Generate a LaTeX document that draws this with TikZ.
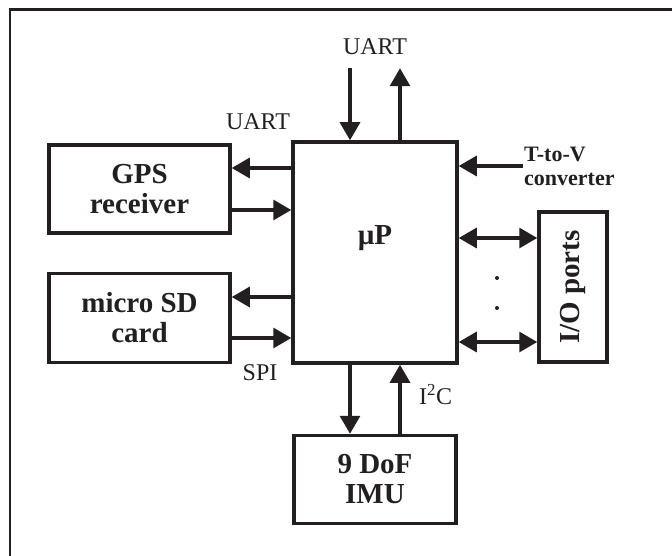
\documentclass[tikz,border=0pt]{standalone}
\usepackage{fontspec}
\setmainfont{Liberation Serif}
\usetikzlibrary{positioning,arrows.meta}
\definecolor{ink}{HTML}{231F20}
\newcommand\boxfont{\fontsize{29}{30}\selectfont\bfseries}
\newcommand\lblfont{\fontsize{24}{26}\selectfont}
\newcommand\notefont{\fontsize{22}{24}\selectfont\bfseries}
\tikzset{
  box/.style={draw=ink, line width=3.5pt, fill=white, align=center,
              inner sep=2pt, font=\boxfont, text=ink},
  flow/.style={-{Triangle[length=18pt,width=20pt]}, draw=ink, line width=3.2pt},
  duplex/.style={{Triangle[length=18pt,width=20pt]}-{Triangle[length=18pt,width=20pt]},
                 draw=ink, line width=3.2pt},
  lbl/.style={font=\lblfont, text=ink, inner sep=0pt},
  frame/.style={draw=ink, line width=2.6pt},
}

\begin{document}
\begin{tikzpicture}[x=1pt, y=-1pt]
  \useasboundingbox (0,0) rectangle (672,556);
  \draw[frame] (10,556) -- (10,9.5) -- (672,9.5);
  % blocks
  \node[box, minimum width=164pt, minimum height=221pt] (up) at (375,252.5) {};
  \node[font=\boxfont, text=ink] (uplbl) at ([yshift=14pt]up.center) {µP};
  \node[box, minimum width=181pt, minimum height=88pt] (gps) at (139.5,189) {GPS\\receiver};
  \node[box, minimum width=181pt, minimum height=89pt, below=37pt of gps] (sd) {micro SD\\card};
  \node[box, minimum width=162pt, minimum height=88pt, below=69pt of up] (imu) {9 DoF\\IMU};
  \node[box, rotate=90, minimum width=150pt, minimum height=68pt] (io) at (573,287) {I/O ports};
  % GPS and SD links
  \draw[flow] ([yshift=21pt]gps.east -| up.west) -- ([yshift=21pt]gps.east);
  \draw[flow] ([yshift=-21pt]gps.east) -- ([yshift=-21pt]gps.east -| up.west);
  \draw[flow] ([yshift=21pt]sd.east -| up.west) -- ([yshift=21pt]sd.east);
  \draw[flow] ([yshift=-20pt]sd.east) -- ([yshift=-20pt]sd.east -| up.west);
  \node[lbl, anchor=base] (uartgps) at (258,130) {UART};
  \node[lbl, anchor=base] (spi) at (260,380) {SPI};
  % UART on top
  \coordinate (uart) at ([yshift=72pt]up.north);
  \draw[flow] ([xshift=-25pt]uart) -- ([xshift=-25pt]up.north);
  \draw[flow] ([xshift=25pt]up.north) -- ([xshift=25pt]uart);
  \node[lbl, anchor=base] (uarttop) at ([yshift=14pt]uart) {UART};
  % T-to-V converter
  \node[font=\notefont, text=ink, align=left, anchor=west, inner sep=1pt] (tv) at (523,166) {T-to-V\\converter};
  \draw[flow] (tv.west) -- (tv.west -| up.east);
  % I/O ports
  \draw[duplex] ([yshift=49pt]io.north -| up.east) -- ([yshift=49pt]io.north);
  \draw[duplex] ([yshift=-55pt]io.north -| up.east) -- ([yshift=-55pt]io.north);
  \foreach \y in {278,308}
    \fill[ink] (497,\y) circle (2pt);
  % IMU links
  \draw[flow] ([xshift=-25pt]imu.north |- up.south) -- ([xshift=-25pt]imu.north);
  \draw[flow] ([xshift=25pt]imu.north) -- ([xshift=25pt]imu.north |- up.south);
  \node[lbl, anchor=base west] (i2c) at ([xshift=44pt,yshift=29pt]imu.north) {I\textsuperscript{2}C};
\end{tikzpicture}
\end{document}
